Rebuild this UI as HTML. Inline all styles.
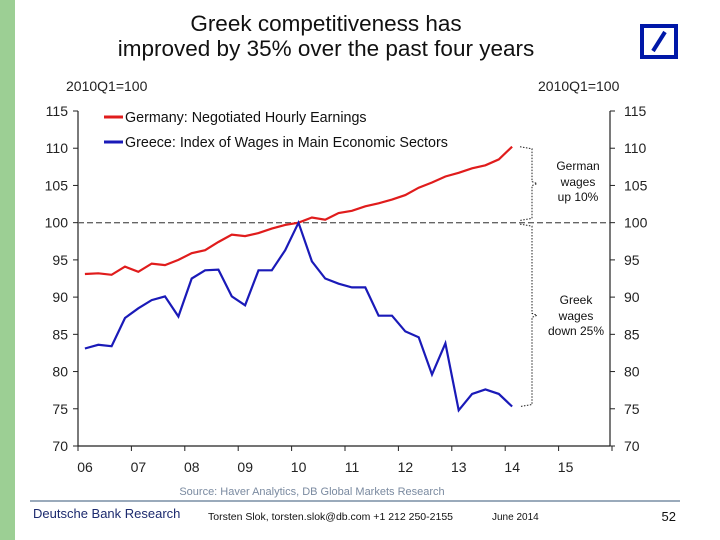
<!DOCTYPE html>
<html><head><meta charset="utf-8"><style>
body{margin:0;width:720px;height:540px;background:#fff;overflow:hidden;position:relative;font-family:"Liberation Sans",sans-serif}
</style></head><body>
<svg width="720" height="540" viewBox="0 0 720 540" style="position:absolute;left:0;top:0">
<rect x="0" y="0" width="15" height="540" fill="#9ccf94"/>
<text x="326" y="31" font-size="22.5" text-anchor="middle" fill="#111">Greek competitiveness has</text>
<text x="326" y="56" font-size="22.5" text-anchor="middle" fill="#111">improved by 35% over the past four years</text>
<g><rect x="642" y="26" width="34" height="31" fill="none" stroke="#0018a8" stroke-width="4"/><line x1="653" y1="51" x2="665" y2="32" stroke="#0018a8" stroke-width="4"/></g>
<text x="66" y="91" font-size="14" fill="#222">2010Q1=100</text>
<text x="538" y="91" font-size="14" fill="#222">2010Q1=100</text>
<g id="chart"></g>
<text x="312" y="495" font-size="11" text-anchor="middle" fill="#7a8aa0">Source: Haver Analytics, DB Global Markets Research</text>
<line x1="30" y1="501" x2="680" y2="501" stroke="#9aaabb" stroke-width="2"/>
<text x="33" y="518" font-size="13" fill="#1c2a6e">Deutsche Bank Research</text>
<text x="208" y="520" font-size="10.5" fill="#111">Torsten Slok, torsten.slok@db.com  +1 212 250-2155</text>
<text x="492" y="520" font-size="10" fill="#111">June 2014</text>
<text x="676" y="521" font-size="13" text-anchor="end" fill="#111">52</text>
</svg>
<script>
const germany=[93.1,93.2,93.0,94.1,93.4,94.5,94.3,95.0,95.9,96.3,97.4,98.4,98.2,98.6,99.2,99.7,100,100.7,100.4,101.3,101.6,102.2,102.6,103.1,103.7,104.7,105.4,106.2,106.7,107.3,107.7,108.5,110.2];
const greece=[83.1,83.6,83.4,87.2,88.5,89.6,90.1,87.4,92.5,93.6,93.7,90.1,88.9,93.6,93.6,96.3,100,94.8,92.5,91.8,91.3,91.3,87.5,87.5,85.4,84.6,79.6,83.8,74.8,77.0,77.6,77.0,75.3];
const yTicks=[70,75,80,85,90,95,100,105,110,115];
const xLabels=["06","07","08","09","10","11","12","13","14","15"];
const startYear=2006;
const NS="http://www.w3.org/2000/svg";
const g=document.getElementById('chart');
const L=78,R=610,T=111,B=446;
const ymin=70,ymax=115;
function y(v){return B-(v-ymin)/(ymax-ymin)*(B-T);}
function xYear(t){return L+(t-startYear)*53.4;}
function xq(i){return xYear(startYear+i/4+0.13);}
function el(tag,attrs,txt){const e=document.createElementNS(NS,tag);for(const k in attrs)e.setAttribute(k,attrs[k]);if(txt!==undefined)e.textContent=txt;g.appendChild(e);return e;}
let e;
e=el('line',{x1:L,y1:T,x2:L,y2:B,stroke:'#222','stroke-width':1.2});


e=el('line',{x1:R,y1:T,x2:R,y2:B,stroke:'#222','stroke-width':1.2});


e=el('line',{x1:L,y1:B,x2:R,y2:B,stroke:'#222','stroke-width':1.2});


yTicks.forEach(v=>{
 el('line',{x1:L-5,y1:y(v),x2:L,y2:y(v),stroke:'#222'});
 el('line',{x1:R,y1:y(v),x2:R+5,y2:y(v),stroke:'#222'});
 e=el('text',{x:L-10,y:y(v)+5,'font-size':14,'text-anchor':'end',fill:'#222'},String(v));
 
 
 e=el('text',{x:R+14,y:y(v)+5,'font-size':14,fill:'#222'},String(v));
 
 
});
for(let k=0;k<=xLabels.length;k++){el('line',{x1:xYear(startYear+k),y1:B,x2:xYear(startYear+k),y2:B+5,stroke:'#222'});}
xLabels.forEach((s,k)=>{
 e=el('text',{x:xYear(startYear+k)+7,y:B+26,'font-size':14,'text-anchor':'middle',fill:'#222'},s);
 
 
});
e=el('line',{x1:L,y1:y(100),x2:R,y2:y(100),stroke:'#666','stroke-width':1.3,'stroke-dasharray':'6,3'});


function path(arr){return arr.map((v,i)=>(i?'L':'M')+xq(i).toFixed(1)+','+y(v).toFixed(1)).join(' ');}
e=el('path',{d:path(germany),fill:'none',stroke:'#e01c1c','stroke-width':2.2});


e=el('path',{d:path(greece),fill:'none',stroke:'#1a1ab8','stroke-width':2.2});


e=el('line',{x1:104,y1:117,x2:123,y2:117,stroke:'#e01c1c','stroke-width':3});


e=el('text',{x:125,y:122,'font-size':14.3,fill:'#111'},'Germany: Negotiated Hourly Earnings');


e=el('line',{x1:104,y1:142,x2:123,y2:142,stroke:'#1a1ab8','stroke-width':3});


e=el('text',{x:125,y:147,'font-size':14.3,fill:'#111'},'Greece: Index of Wages in Main Economic Sectors');


function brace(y1,y2,name){
 const mid=(y1+y2)/2;
 e=el('path',{d:`M520,${y1} L532,${y1+2} L532,${mid-2} L537,${mid} L532,${mid+2} L532,${y2-2} L520,${y2}`,fill:'none',stroke:'#222','stroke-width':1,'stroke-dasharray':'1.5,1.5'});
 
 
}
brace(y(110.2),y(100.3),'german-brace');
brace(y(99.8),y(75.3),'greek-brace');
[['German',170],['wages',186],['up 10%',201]].forEach(([t,yy])=>{e=el('text',{x:578,y:yy,'font-size':12,'text-anchor':'middle',fill:'#111'},t);
 
 });
[['Greek',304],['wages',320],['down 25%',335]].forEach(([t,yy])=>{e=el('text',{x:576,y:yy,'font-size':12,'text-anchor':'middle',fill:'#111'},t);
 
 });
</script>
</body></html>
